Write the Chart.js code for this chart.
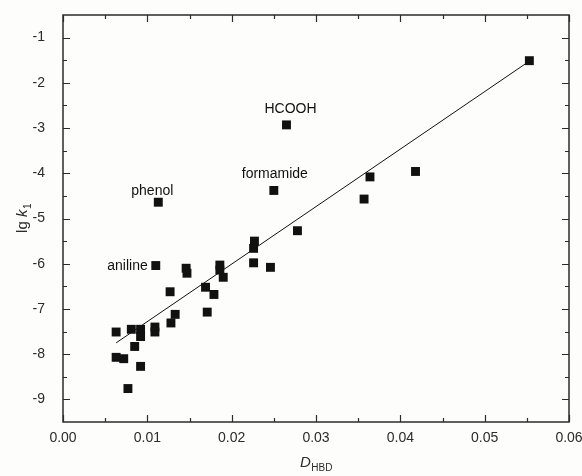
<!DOCTYPE html>
<html>
<head>
<meta charset="UTF-8">
<title>lg k1 vs D_HBD</title>
<script src="https://cdn.jsdelivr.net/npm/chart.js"></script>
<style>
    body { margin: 0; background: #fdfdfc; }
    #chart { display: block; }
</style>
</head>
<body>
<canvas id="chart" width="582" height="476"></canvas>
<script>
// data
const xVals = [0.0553, 0.0265, 0.0418, 0.0364, 0.0250, 0.0357, 0.0113, 0.0278, 0.0227, 0.0226,
               0.0226, 0.0246, 0.0186, 0.0186, 0.0190, 0.0110, 0.0146, 0.0147, 0.0127, 0.0169,
               0.0179, 0.0171, 0.0133, 0.0128, 0.0063, 0.0081, 0.0092, 0.0092, 0.0109, 0.0109,
               0.0085, 0.0063, 0.0072, 0.0092, 0.0077];
const yVals = [-1.51, -2.93, -3.96, -4.08, -4.38, -4.57, -4.64, -5.27, -5.50, -5.66,
               -5.98, -6.08, -6.03, -6.14, -6.30, -6.04, -6.10, -6.21, -6.62, -6.52,
               -6.68, -7.07, -7.12, -7.31, -7.51, -7.45, -7.45, -7.61, -7.40, -7.51,
               -7.83, -8.07, -8.10, -8.27, -8.76];
const fitX = [0.0063, 0.0553];
const fitY = [-7.75, -1.52];
const xTicks = [0, 0.01, 0.02, 0.03, 0.04, 0.05, 0.06];
const xTickLabels = ['0.00', '0.01', '0.02', '0.03', '0.04', '0.05', '0.06'];
const yTicks = [-1, -2, -3, -4, -5, -6, -7, -8, -9];
const yTickLabels = ['-1', '-2', '-3', '-4', '-5', '-6', '-7', '-8', '-9'];
const namedPoints = ['HCOOH', 'formamide', 'phenol', 'aniline'];
const namedIndex = [1, 4, 6, 15];

const FONT = "'Liberation Sans', Arial, sans-serif";
const INK = '#2b2b2b';

// frame, inward ticks, point names and axis titles
const decor = {
    id: 'decor',
    afterDraw(chart) {
        const c = chart.ctx, a = chart.chartArea;
        const xs = chart.scales.x, ys = chart.scales.y;
        c.save();
        c.strokeStyle = INK;
        c.lineWidth = 1.5;
        c.strokeRect(a.left, a.top, a.right - a.left, a.bottom - a.top);

        c.lineWidth = 1.2;
        c.beginPath();
        function xt(v, len) {
            const p = Math.round(xs.getPixelForValue(v)) + 0.5;
            c.moveTo(p, a.bottom); c.lineTo(p, a.bottom - len);
            c.moveTo(p, a.top); c.lineTo(p, a.top + len);
        }
        function yt(v, len) {
            const p = Math.round(ys.getPixelForValue(v)) + 0.5;
            c.moveTo(a.left, p); c.lineTo(a.left + len, p);
            c.moveTo(a.right, p); c.lineTo(a.right - len, p);
        }
        xTicks.forEach(function(v, i) {
            xt(v, 7);
            if (i < xTicks.length - 1) xt((v + xTicks[i + 1]) / 2, 4);
        });
        yTicks.forEach(function(v, i) {
            yt(v, 7);
            if (i < yTicks.length - 1) yt((v + yTicks[i + 1]) / 2, 4);
        });
        c.stroke();

        // names next to some points
        const offs = { HCOOH: [4, -16, 'center'], formamide: [1, -16, 'center'],
                       phenol: [-6, -11, 'center'], aniline: [-8, 1, 'right'] };
        c.fillStyle = '#111';
        c.font = '14px ' + FONT;
        c.textBaseline = 'middle';
        namedPoints.forEach(function(n, i) {
            const k = namedIndex[i], o = offs[n];
            c.textAlign = o[2];
            c.fillText(n, xs.getPixelForValue(xVals[k]) + o[0], ys.getPixelForValue(yVals[k]) + o[1]);
        });

        // x title: D with subscript HBD
        c.fillStyle = INK;
        c.textAlign = 'left';
        c.textBaseline = 'alphabetic';
        const cx = (a.left + a.right) / 2;
        c.font = 'italic 15px ' + FONT;
        const wD = c.measureText('D').width;
        c.font = '10px ' + FONT;
        const wS = c.measureText('HBD').width;
        let x0 = cx - (wD + wS) / 2;
        c.font = 'italic 15px ' + FONT;
        c.fillText('D', x0, 467);
        c.font = '10px ' + FONT;
        c.fillText('HBD', x0 + wD + 0.5, 471);

        // y title: lg k1, rotated
        c.translate(27, (a.top + a.bottom) / 2);
        c.rotate(-Math.PI / 2);
        c.font = '15px ' + FONT;
        const w1 = c.measureText('lg ').width;
        c.font = 'italic 15px ' + FONT;
        const w2 = c.measureText('k').width;
        c.font = '10px ' + FONT;
        const w3 = c.measureText('1').width;
        x0 = -(w1 + w2 + w3) / 2;
        c.font = '15px ' + FONT;
        c.fillText('lg ', x0, 0);
        c.font = 'italic 15px ' + FONT;
        c.fillText('k', x0 + w1, 0);
        c.font = '10px ' + FONT;
        c.fillText('1', x0 + w1 + w2 + 0.5, 4);
        c.restore();
    }
};

new Chart(document.getElementById('chart'), {
    type: 'scatter',
    data: {
        datasets: [{
            label: 'data',
            data: xVals.map(function(x, i) { return { x: x, y: yVals[i] }; }),
            pointStyle: 'rect',
            pointRadius: 6.3,
            backgroundColor: '#111',
            borderColor: '#111',
            borderWidth: 0
        }, {
            label: 'fit',
            type: 'line',
            data: fitX.map(function(x, i) { return { x: x, y: fitY[i] }; }),
            borderColor: '#111',
            borderWidth: 1,
            pointRadius: 0,
            fill: false
        }]
    },
    options: {
        responsive: false,
        animation: false,
        layout: { autoPadding: false, padding: { left: 0, top: 15, right: 13, bottom: 0 } },
        plugins: { legend: { display: false }, tooltip: { enabled: false } },
        scales: {
            x: {
                type: 'linear',
                min: 0, max: 0.06,
                afterBuildTicks: function(s) { s.ticks = xTicks.map(function(v) { return { value: v }; }); },
                afterFit: function(s) { s.height = 54; s.paddingLeft = 0; s.paddingRight = 0; },
                grid: { display: false, drawTicks: false },
                border: { display: false },
                ticks: {
                    padding: 8,
                    color: INK,
                    font: { family: FONT, size: 14 },
                    maxRotation: 0,
                    autoSkip: false,
                    callback: function(v) { return xTickLabels[xTicks.indexOf(v)]; }
                }
            },
            y: {
                type: 'linear',
                min: -9.5, max: -0.5,
                afterBuildTicks: function(s) { s.ticks = yTicks.map(function(v) { return { value: v }; }); },
                afterFit: function(s) { s.width = 63; s.paddingTop = 0; s.paddingBottom = 0; },
                grid: { display: false, drawTicks: false },
                border: { display: false },
                ticks: {
                    padding: 18,
                    color: INK,
                    font: { family: FONT, size: 14 },
                    autoSkip: false,
                    callback: function(v) { return yTickLabels[yTicks.indexOf(v)]; }
                }
            }
        }
    },
    plugins: [decor]
});
</script>
</body>
</html>
